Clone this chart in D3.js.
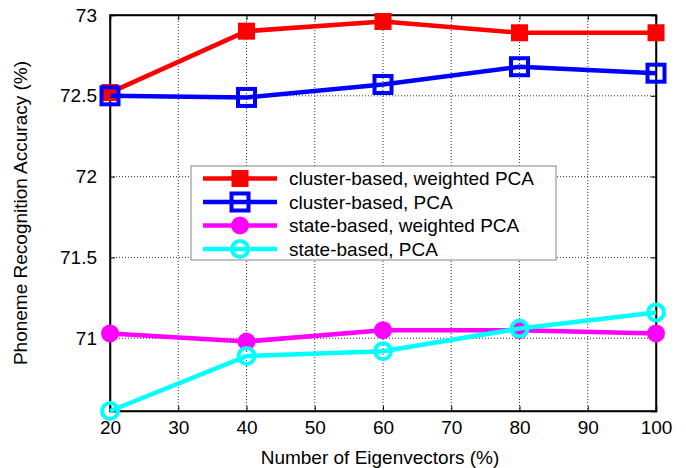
<!DOCTYPE html>
<html><head><meta charset="utf-8">
<script src="https://cdn.jsdelivr.net/npm/d3@7"></script>
<style>body{margin:0;background:#fff}svg{display:block}text{font-family:"Liberation Sans",Arial,sans-serif;fill:#000}</style>
</head><body><svg id="c" width="686" height="468"></svg>
<script>
const xValues = [20, 40, 60, 80, 100];
const clusterWeighted = [72.52, 72.90, 72.96, 72.89, 72.89];
const clusterPCA = [72.50, 72.49, 72.57, 72.68, 72.64];
const stateWeighted = [71.03, 70.98, 71.05, 71.05, 71.03];
const statePCA = [70.55, 70.89, 70.92, 71.06, 71.16];
const seriesNames = ["cluster-based, weighted PCA", "cluster-based, PCA", "state-based, weighted PCA", "state-based, PCA"];
const xTicks = [20, 30, 40, 50, 60, 70, 80, 90, 100];
const yTicks = [71, 71.5, 72, 72.5, 73];
const yMin = 70.55, yMax = 73;

const series = [
  {name: seriesNames[0], values: clusterWeighted, color: "#ff0000", marker: "square", fill: true},
  {name: seriesNames[1], values: clusterPCA, color: "#0000ff", marker: "square", fill: false},
  {name: seriesNames[2], values: stateWeighted, color: "#ff00ff", marker: "circle", fill: true},
  {name: seriesNames[3], values: statePCA, color: "#00ffff", marker: "circle", fill: false}
];

const svg = d3.select("#c");
const L = 110, R = 656, T = 15, B = 411;
const x = d3.scaleLinear().domain([20, 100]).range([L, R]);
const y = d3.scaleLinear().domain([yMin, yMax]).range([B, T]);

// grid
const grid = svg.append("g");
grid.selectAll("line.gx").data(xTicks.slice(1, -1)).join("line")
  .attr("x1", d => x(d)).attr("x2", d => x(d)).attr("y1", T).attr("y2", B)
  .attr("stroke", "#333").attr("stroke-width", 1).attr("stroke-dasharray", "1,2");
grid.selectAll("line.gy").data(yTicks.filter(d => d < yMax)).join("line")
  .attr("y1", d => y(d)).attr("y2", d => y(d)).attr("x1", L).attr("x2", R)
  .attr("stroke", "#333").attr("stroke-width", 1).attr("stroke-dasharray", "1,2");

// axes
const fs = "19px";
const xa = svg.append("g").attr("transform", `translate(0,${B})`)
  .call(d3.axisBottom(x).tickValues(xTicks).tickSize(-5).tickPadding(12));
const xt = svg.append("g").attr("transform", `translate(0,${T})`)
  .call(d3.axisTop(x).tickValues(xTicks).tickSize(-5).tickFormat(""));
const ya = svg.append("g").attr("transform", `translate(${L},0)`)
  .call(d3.axisLeft(y).tickValues(yTicks).tickSize(-5).tickPadding(13).tickFormat(d3.format("")));
const yr = svg.append("g").attr("transform", `translate(${R},0)`)
  .call(d3.axisRight(y).tickValues(yTicks).tickSize(-5).tickFormat(""));
[xa, xt, ya, yr].forEach(g => {
  g.select(".domain").attr("stroke", "#000").attr("stroke-width", 1.5);
  g.selectAll(".tick line").attr("stroke", "#000").attr("stroke-width", 1);
  g.selectAll("text").style("font-size", fs).style("font-family", '"Liberation Sans",Arial,sans-serif').attr("fill", "#000");
});
xa.selectAll("text").attr("dy", "0.6em");
svg.append("rect").attr("x", L).attr("y", T).attr("width", R - L).attr("height", B - T)
  .attr("fill", "none").attr("stroke", "#000").attr("stroke-width", 1.5);

const line = d3.line().x((d, i) => x(xValues[i])).y(d => y(d));

function drawMarker(g, s, cx, cy) {
  if (s.marker === "square") {
    if (s.fill) g.append("rect").attr("x", cx - 8.5).attr("y", cy - 8.5).attr("width", 17).attr("height", 17).attr("fill", s.color);
    else g.append("rect").attr("x", cx - 8.5).attr("y", cy - 8.5).attr("width", 17).attr("height", 17).attr("fill", "none").attr("stroke", s.color).attr("stroke-width", 4);
  } else {
    if (s.fill) g.append("circle").attr("cx", cx).attr("cy", cy).attr("r", 9).attr("fill", s.color);
    else g.append("circle").attr("cx", cx).attr("cy", cy).attr("r", 8).attr("fill", "none").attr("stroke", s.color).attr("stroke-width", 4);
  }
}

series.forEach(s => {
  const g = svg.append("g");
  g.append("path").datum(s.values).attr("d", line).attr("fill", "none")
    .attr("stroke", s.color).attr("stroke-width", 4.5).attr("stroke-linejoin", "round");
  s.values.forEach((v, i) => drawMarker(g, s, x(xValues[i]), y(v)));
});

// legend
const lg = svg.append("g");
lg.append("rect").attr("x", 191).attr("y", 166).attr("width", 365).attr("height", 94)
  .attr("fill", "#fff").attr("stroke", "#999").attr("stroke-width", 1.2);
series.forEach((s, i) => {
  const cy = 178.5 + i * 23.5;
  lg.append("line").attr("x1", 203).attr("x2", 277).attr("y1", cy).attr("y2", cy)
    .attr("stroke", s.color).attr("stroke-width", 4.5);
  drawMarker(lg, s, 240, cy);
  lg.append("text").attr("x", 289).attr("y", cy).attr("dy", "0.35em")
    .style("font-size", "19px").text(s.name);
});

// axis labels
svg.append("text").attr("x", 380).attr("y", 457).attr("text-anchor", "middle").attr("dy", "0.35em")
  .style("font-size", "19px").text("Number of Eigenvectors (%)");
svg.append("text").attr("transform", "translate(20,213) rotate(-90)").attr("text-anchor", "middle").attr("dy", "0.35em")
  .style("font-size", "19px").text("Phoneme Recognition Accuracy (%)");
</script></body></html>
